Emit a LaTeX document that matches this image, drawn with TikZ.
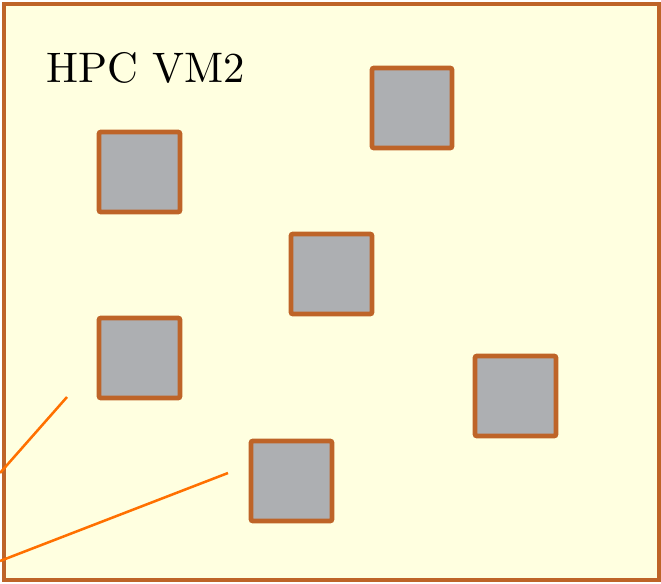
\documentclass[tikz,border=0pt]{standalone}
\usepackage{fontspec}
\newfontfamily\titlefont{lmroman10-regular.otf}
\begin{document}
\begin{tikzpicture}[x=0.75pt,y=-0.75pt,
  frameclr/.style={draw=brownedge,line width=3.2pt},
  box/.style={draw=brownedge,fill=boxgray,line width=3.6pt,rounded corners=1.5pt},
  link/.style={draw=linkorange,line width=1.9pt}]
\definecolor{brownedge}{RGB}{190,100,40}
\definecolor{boxgray}{RGB}{173,175,178}
\definecolor{bgyellow}{RGB}{255,255,224}
\definecolor{linkorange}{RGB}{255,112,0}
\useasboundingbox (0,0) rectangle (661,583);
% host frame
\draw[frameclr,fill=bgyellow] (4,4) rectangle (659,580);
\node[anchor=base west,inner sep=0pt,font=\titlefont\fontsize{32}{36}\selectfont] (title) at (46,82) {HPC VM2};
% guest boxes
\draw[box] (99,132) rectangle (180,212);
\draw[box] (372,68) rectangle (452,148);
\draw[box] (291,234) rectangle (372,314);
\draw[box] (99,318) rectangle (180,398);
\draw[box] (475,356) rectangle (556,436);
\draw[box] (251,441) rectangle (332,521);
% incoming links
\coordinate (l1a) at (67,397);
\coordinate (l1b) at (0,473);
\coordinate (l2a) at (228,473);
\coordinate (l2b) at (0,561);
\draw[link] (l1a) -- (l1b);
\draw[link] (l2a) -- (l2b);
\end{tikzpicture}
\end{document}
